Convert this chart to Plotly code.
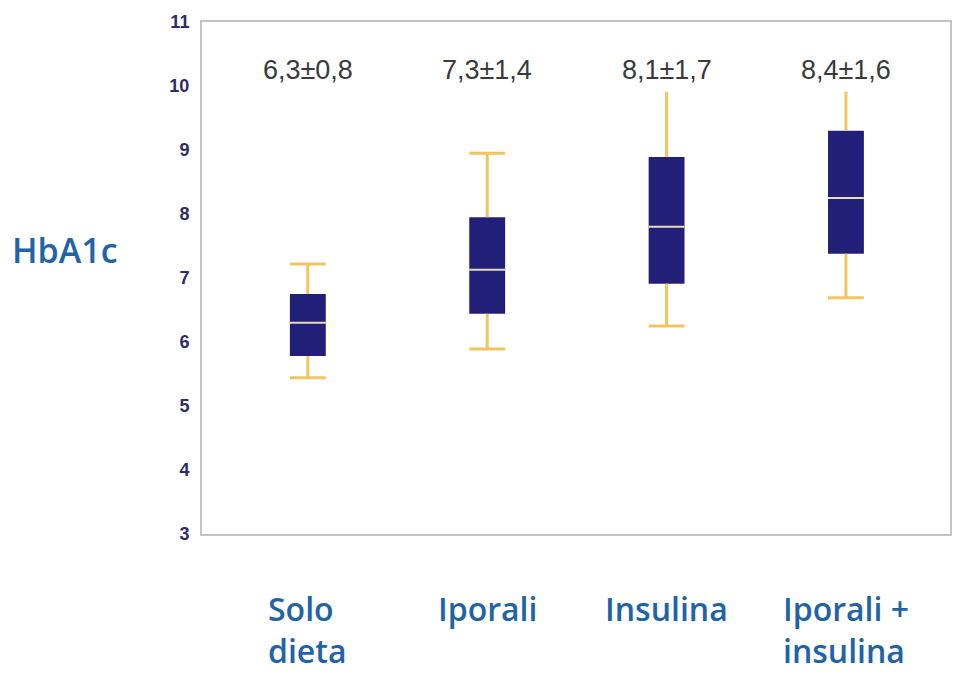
import plotly.graph_objects as go

# HbA1c distribution by treatment group
categories = ["Solo<br>dieta", "Iporali", "Insulina", "Iporali +<br>insulina"]
whisker_low = [5.44, 5.89, 6.25, 6.69]
q1 = [5.78, 6.44, 6.91, 7.38]
median = [6.30, 7.13, 7.80, 8.25]
q3 = [6.75, 7.95, 8.89, 9.30]
whisker_high = [7.22, 8.95, 9.91, 9.91]
upper_cap = [True, True, False, False]
mean_sd_labels = ["6,3±0,8", "7,3±1,4", "8,1±1,7", "8,4±1,6"]
y_ticks = [3, 4, 5, 6, 7, 8, 9, 10, 11]

BOX_COLOR = "#221f79"
WHISKER_COLOR = "#f0c45e"
MEDIAN_COLOR = "#eadcb4"
LABEL_BLUE = "#2163a6"
BOX_W = 0.2

xs = list(range(len(categories)))

fig = go.Figure()

# interquartile boxes
fig.add_trace(go.Bar(
    x=xs, y=[b - a for a, b in zip(q1, q3)], base=q1, width=BOX_W,
    marker=dict(color=BOX_COLOR, line=dict(width=0)), showlegend=False))

# whiskers (outside the box) and caps
for i, x in enumerate(xs):
    for y0, y1 in ((whisker_low[i], q1[i]), (q3[i], whisker_high[i])):
        fig.add_trace(go.Scatter(
            x=[x, x], y=[y0, y1], mode="lines",
            line=dict(color=WHISKER_COLOR, width=3), hoverinfo="skip", showlegend=False))
    caps = [whisker_low[i]] + ([whisker_high[i]] if upper_cap[i] else [])
    for c in caps:
        fig.add_trace(go.Scatter(
            x=[x - BOX_W / 2, x + BOX_W / 2], y=[c, c], mode="lines",
            line=dict(color=WHISKER_COLOR, width=3), hoverinfo="skip", showlegend=False))

# medians
for i, x in enumerate(xs):
    fig.add_trace(go.Scatter(
        x=[x - BOX_W / 2, x + BOX_W / 2], y=[median[i], median[i]], mode="lines",
        line=dict(color=MEDIAN_COLOR, width=2), hoverinfo="skip", showlegend=False))

annotations = []
for i, x in enumerate(xs):
    annotations.append(dict(
        x=x, y=10.25, xref="x", yref="y", text=mean_sd_labels[i], showarrow=False,
        font=dict(family="Liberation Sans, Arial", size=27, color="#3a3a3a"),
        xanchor="center", yanchor="middle"))
    annotations.append(dict(
        x=x, y=-0.1, xref="x", yref="paper", text=categories[i], showarrow=False,
        align="left", xanchor="center", yanchor="top",
        font=dict(family="Open Sans", size=32, color=LABEL_BLUE, weight=600)))

annotations.append(dict(
    x=-0.183, y=7.44, xref="paper", yref="y", text="HbA1c", showarrow=False,
    xanchor="center", yanchor="middle",
    font=dict(family="Open Sans", size=34, color=LABEL_BLUE, weight=600)))

fig.update_layout(
    width=956, height=676,
    margin=dict(l=202, r=4, t=22, b=142),
    paper_bgcolor="white", plot_bgcolor="white",
    annotations=annotations,
    xaxis=dict(range=[-0.59, 3.58], showticklabels=False, showgrid=False, zeroline=False,
               showline=True, linecolor="#c4c4c4", linewidth=2, mirror=True, ticks=""),
    yaxis=dict(range=[3, 11], tickvals=y_ticks, showgrid=False, zeroline=False,
               showline=True, linecolor="#c4c4c4", linewidth=2, mirror=True, ticks="",
               ticklabelstandoff=7,
               tickfont=dict(family="Liberation Sans, Arial", size=18, color="#2e2c6a", weight="bold")),
)

fig.write_html("out.html")
